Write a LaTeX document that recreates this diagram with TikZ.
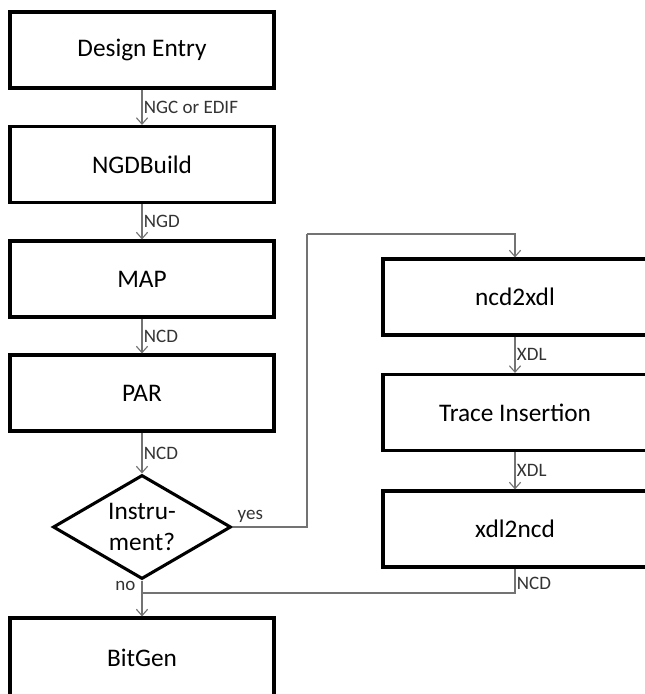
\documentclass[tikz,border=0pt]{standalone}
\usepackage{fontspec}
\setmainfont{Carlito}
\usetikzlibrary{shapes.geometric, arrows.meta, positioning}
\tikzset{stepbox/.style={draw=black, line width=2.2pt, minimum width=6.6cm, minimum height=1.9cm, inner sep=0pt, font=\fontsize{18}{21}\selectfont},
conn/.style={draw=black!55, line width=0.8pt}, flow/.style={conn, -{Straight Barb[length=4.5pt,width=8pt]}},
lbl/.style={font=\fontsize{13.5}{15}\selectfont, text=black!80, inner sep=1pt}}

\begin{document}
\begin{tikzpicture}[x=0.025cm, y=-0.025cm]
                 \useasboundingbox (0,0) rectangle (644,694);
                 \node[stepbox] (entry) at (142,50) {Design Entry};
                 \node[stepbox] (ngdb) at (142,164.5) {NGDBuild};
                 \node[stepbox] (map) at (142,279) {MAP};
                 \node[stepbox] (par) at (142,393) {PAR};
                 \node[diamond, aspect=1.75, draw=black, line width=2.2pt, minimum width=4.45cm, minimum height=2.6cm, inner sep=0pt, align=center, font=\fontsize{18}{22}\selectfont] (instr) at (142,527) {Instru-\\ment?};
                 \node[stepbox, minimum height=2cm] (bitgen) at (142,658) {BitGen};

                 \node[stepbox] (n2x) at (515,297) {ncd2xdl};
                 \node[stepbox] (trace) at (515,412.5) {Trace Insertion};
                 \node[stepbox] (x2n) at (515,529) {xdl2ncd};

                 \coordinate (loop) at (307,234);
                 \coordinate (join) at (142,593);

                 \draw[flow] (entry) -- node[lbl, right] (l1) {NGC or EDIF} (ngdb);
                 \draw[flow] (ngdb) -- node[lbl, right] (l2) {NGD} (map);
                 \draw[flow] (map) -- node[lbl, right] (l3) {NCD} (par);
                 \draw[flow] (par) -- node[lbl, right] (l4) {NCD} (instr);
                 \draw[flow] (instr.south) -- (bitgen);
                 \node[lbl, anchor=east] (no) at (137,586) {no};

                 \draw[conn] (instr.east) -| (loop);
                 \node[lbl, anchor=south west] (yes) at (236,524) {yes};
                 \draw[flow] (loop) -| (n2x.north);
                 \draw[flow] (n2x) -- node[lbl, right] (l5) {XDL} (trace);
                 \draw[flow] (trace) -- node[lbl, right] (l6) {XDL} (x2n);
                 \draw[conn] (x2n.south) |- node[lbl, right, pos=0.3] (l7) {NCD} (join);
\end{tikzpicture}
\end{document}
